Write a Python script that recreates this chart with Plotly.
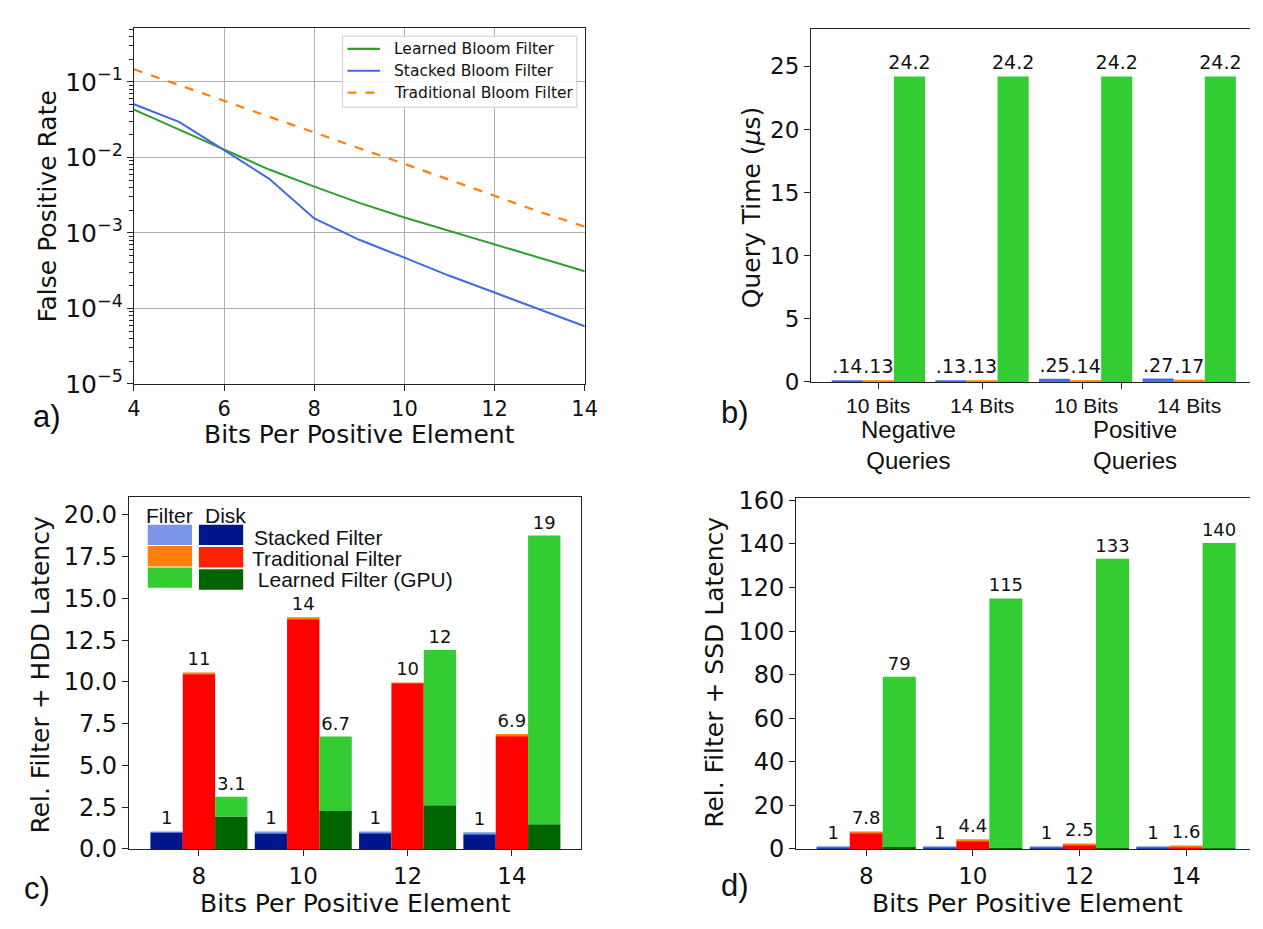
import plotly.graph_objects as go

W, H = 1263, 929

# ---------------- data ----------------
# panel a
bits_a = [4, 5, 6, 7, 8, 9, 10, 11, 12, 13, 14]
fpr_learned = [0.043, 0.0235, 0.0128, 0.0069, 0.0041, 0.0025, 0.0016, 0.00106, 0.00070, 0.00047, 0.00031]
fpr_stacked = [0.0505, 0.0295, 0.0125, 0.0052, 0.00155, 0.00081, 0.00047, 0.00027, 0.000162, 0.0000975, 0.000058]
fpr_trad = [0.147, 0.0905, 0.056, 0.0346, 0.0214, 0.0132, 0.0082, 0.0051, 0.0031, 0.0019, 0.00121]
a_names = ["Learned Bloom Filter", "Stacked Bloom Filter", "Traditional Bloom Filter"]

# panel b
b_cats = ["10 Bits", "14 Bits", "10 Bits", "14 Bits"]
b_groups = ["Negative<br>Queries", "Positive<br>Queries"]
b_stacked = [0.14, 0.13, 0.25, 0.27]
b_trad = [0.13, 0.13, 0.14, 0.17]
b_learned = [24.2, 24.2, 24.2, 24.2]
b_stacked_lbl = [".14", ".13", ".25", ".27"]
b_trad_lbl = [".13", ".13", ".14", ".17"]
b_learned_lbl = ["24.2", "24.2", "24.2", "24.2"]

# panel c (HDD)
c_bits = ["8", "10", "12", "14"]
c_stacked_disk = [1.00, 0.94, 0.97, 0.88]
c_stacked_filter = [0.02, 0.08, 0.04, 0.12]
c_trad_disk = [10.50, 13.80, 9.94, 6.77]
c_trad_filter = [0.02, 0.08, 0.02, 0.11]
c_learned_disk = [1.94, 2.27, 2.62, 1.48]
c_learned_filter = [1.19, 4.46, 9.30, 17.29]
c_stacked_lbl = ["1", "1", "1", "1"]
c_trad_lbl = ["11", "14", "10", "6.9"]
c_learned_lbl = ["3.1", "6.7", "12", "19"]
c_legend = ["Stacked Filter", "Traditional Filter", " Learned Filter (GPU)"]

# panel d (SSD)
d_bits = ["8", "10", "12", "14"]
d_stacked_disk = [0.4, 0.4, 0.4, 0.4]
d_stacked_filter = [0.6, 0.6, 0.6, 0.6]
d_trad_disk = [7.5, 3.9, 1.8, 1.0]
d_trad_filter = [0.3, 0.5, 0.7, 0.6]
d_learned_disk = [0.9, 0.5, 0.4, 0.3]
d_learned_filter = [78.2, 114.5, 132.8, 140.1]
d_stacked_lbl = ["1", "1", "1", "1"]
d_trad_lbl = ["7.8", "4.4", "2.5", "1.6"]
d_learned_lbl = ["79", "115", "133", "140"]

# ---------------- helpers ----------------
def px(x):
    return x / W

def py(y):
    return 1 - y / H

DV = "DejaVu Sans"
LS = "Liberation Sans"
INK = "#111111"

C_STK_F = "#7b96e8"
C_STK_D = "#00178c"
C_TRD_F = "#ff7f0e"
C_TRD_D = "#ff0000"
C_LRN_F = "#33cc33"
C_LRN_D = "#006400"

A_COLS = ["#2ca02c", "#4169e1", "#ff7f0e"]
A_DASH = ["solid", "solid", "dash"]

fig = go.Figure()

# ---------------- panel a ----------------
for ys, name, col, dash in zip([fpr_learned, fpr_stacked, fpr_trad], a_names, A_COLS, A_DASH):
    fig.add_trace(go.Scatter(x=bits_a, y=ys, mode="lines", name=name, showlegend=False,
                             line=dict(color=col, width=2.2 if dash == "dash" else 2, dash=dash),
                             xaxis="x", yaxis="y"))

# ---------------- bar helper ----------------
def bars(xa, ya, idx, vals, color, offset, width, base=None, text=None, textsize=18):
    kw = {}
    if base is not None:
        kw["base"] = base
    if text is not None:
        kw.update(text=text, textposition="outside", cliponaxis=False, constraintext="none",
                  textfont=dict(family=DV, size=textsize, color=INK))
    fig.add_trace(go.Bar(x=idx, y=vals, marker=dict(color=color, line=dict(width=0)),
                         offset=offset, width=width, xaxis=xa, yaxis=ya, showlegend=False,
                         hoverinfo="y", **kw))

# ---------------- panel b ----------------
idx_b = list(range(len(b_cats)))
bars("x2", "y2", idx_b, b_stacked, "#4169e1", -0.45, 0.3, text=b_stacked_lbl, textsize=19)
bars("x2", "y2", idx_b, b_trad, "#ff7f0e", -0.15, 0.3, text=b_trad_lbl, textsize=19)
bars("x2", "y2", idx_b, b_learned, "#33cc33", 0.15, 0.3, text=b_learned_lbl, textsize=19)

# ---------------- panel c ----------------
idx_c = list(range(len(c_bits)))
bw = 0.31
bars("x3", "y3", idx_c, c_stacked_disk, C_STK_D, -1.5 * bw, bw)
bars("x3", "y3", idx_c, c_stacked_filter, C_STK_F, -1.5 * bw, bw, base=c_stacked_disk, text=c_stacked_lbl)
bars("x3", "y3", idx_c, c_trad_disk, C_TRD_D, -0.5 * bw, bw)
bars("x3", "y3", idx_c, c_trad_filter, C_TRD_F, -0.5 * bw, bw, base=c_trad_disk, text=c_trad_lbl)
bars("x3", "y3", idx_c, c_learned_disk, C_LRN_D, 0.5 * bw, bw)
bars("x3", "y3", idx_c, c_learned_filter, C_LRN_F, 0.5 * bw, bw, base=c_learned_disk, text=c_learned_lbl)

# ---------------- panel d ----------------
idx_d = list(range(len(d_bits)))
bars("x4", "y4", idx_d, d_stacked_disk, C_STK_D, -1.5 * bw, bw)
bars("x4", "y4", idx_d, d_stacked_filter, "#4169e1", -1.5 * bw, bw, base=d_stacked_disk, text=d_stacked_lbl)
bars("x4", "y4", idx_d, d_trad_disk, C_TRD_D, -0.5 * bw, bw)
bars("x4", "y4", idx_d, d_trad_filter, C_TRD_F, -0.5 * bw, bw, base=d_trad_disk, text=d_trad_lbl)
bars("x4", "y4", idx_d, d_learned_disk, C_LRN_D, 0.5 * bw, bw)
bars("x4", "y4", idx_d, d_learned_filter, C_LRN_F, 0.5 * bw, bw, base=d_learned_disk, text=d_learned_lbl)

# ---------------- axes ----------------
def ax(domain, anchor, size, **kw):
    d = dict(domain=domain, anchor=anchor, showline=True, linecolor="#222222", linewidth=1.2,
             ticks="outside", ticklen=6, tickcolor="#222222", showgrid=False, zeroline=False,
             tickfont=dict(family=DV, size=size, color=INK))
    d.update(kw)
    return d

layout = dict(
    width=W, height=H, margin=dict(l=0, r=0, t=0, b=0),
    plot_bgcolor="white", paper_bgcolor="white", barmode="overlay", showlegend=False,
    xaxis=ax([px(129), px(587)], "y", 21, range=[4, 14], dtick=2, mirror=True,
             showgrid=True, gridcolor="#b0b0b0", gridwidth=1),
    yaxis=ax([py(383), py(16)], "x", 20, type="log", range=[-5, -0.28], dtick=1,
             exponentformat="power", mirror=True, showgrid=True, gridcolor="#b0b0b0", gridwidth=1,
             minor=dict(ticks="outside", ticklen=4, tickcolor="#222222", showgrid=False, dtick="D1")),
    xaxis2=ax([px(817), 1.0], "y2", 21, range=[-0.65, 3.586], tickvals=[0, 1, 1.97, 2.35],
              showticklabels=False, mirror=True),
    yaxis2=ax([py(381), py(17)], "x2", 23, range=[0, 28], dtick=5),
    xaxis3=ax([px(124), px(583)], "y3", 23, range=[-0.67, 3.66], tickvals=idx_c, ticktext=c_bits,
              mirror=True),
    yaxis3=ax([py(862), py(500)], "x3", 24, range=[0, 21.05], dtick=2.5, tickformat=".1f", mirror=True),
    xaxis4=ax([px(802), 1.0], "y4", 23, range=[-0.656, 3.6], tickvals=idx_d, ticktext=d_bits, mirror=True),
    yaxis4=ax([py(862), py(501)], "x4", 24, range=[0, 160.9], dtick=20),
)
fig.update_layout(**layout)

# ---------------- annotations ----------------
ann = []

def text(x, y, s, size, family=DV, angle=0, xanchor="center", xref="paper"):
    ann.append(dict(x=x if xref != "paper" else px(x), y=py(y), xref=xref, yref="paper", text=s,
                    showarrow=False, textangle=angle, xanchor=xanchor, yanchor="middle",
                    font=dict(family=family, size=size, color=INK)))

shapes = []

# panel a
text(41, 200, "False Positive Rate", 25, angle=-90)
text(358, 435, "Bits Per Positive Element", 25)
text(41, 417, "a)", 31, family=LS)
# legend of panel a (drawn box)
shapes.append(dict(type="rect", xref="paper", yref="paper", x0=px(341), x1=px(579),
                   y0=py(98), y1=py(25), fillcolor="rgba(255,255,255,0.85)",
                   line=dict(color="#cccccc", width=1)))
for k, (name, col, dash) in enumerate(zip(a_names, A_COLS, A_DASH)):
    yy = 38 + k * 22.5
    shapes.append(dict(type="line", xref="paper", yref="paper", x0=px(346), x1=px(379),
                       y0=py(yy), y1=py(yy), line=dict(color=col, width=2.2, dash=dash)))
    text(391, yy, name, 15.5, xanchor="left")

# panel b
text(756, 201, "Query Time (<i>μ</i>s)", 25, angle=-90)
text(740, 413, "b)", 31, family=LS)
for i, c in enumerate(b_cats):
    text(i, 405, c, 21, family=LS, xref="x2")
text(0.29, 446, b_groups[0], 24, family=LS, xref="x2")
text(2.48, 446, b_groups[1], 24, family=LS, xref="x2")
# panel c
text(34, 683, "Rel. Filter + HDD Latency", 25, angle=-90)
text(354, 918, "Bits Per Positive Element", 25)
text(30, 903, "c)", 31, family=LS)
# panel d
text(719, 680, "Rel. Filter + SSD Latency", 25, angle=-90)
text(1037, 918, "Bits Per Positive Element", 25)
text(740, 900, "d)", 31, family=LS)

# custom legend of panel c
text(165, 519, "Filter", 21, family=LS)
text(222, 519, "Disk", 21, family=LS)
text(249, 541, c_legend[0], 21, family=LS, xanchor="left")
text(247, 563, c_legend[1], 21, family=LS, xanchor="left")
text(247, 585, c_legend[2], 21, family=LS, xanchor="left")

filter_rows = [(528, 549), (550, 571), (572, 593)]
disk_rows = [(528, 549), (551, 572), (574, 595)]
filter_cols = [C_STK_F, C_TRD_F, C_LRN_F]
disk_cols = [C_STK_D, "#ff2200", C_LRN_D]
for (t, b), col in zip(filter_rows, filter_cols):
    shapes.append(dict(type="rect", xref="paper", yref="paper", x0=px(143), x1=px(188),
                       y0=py(b), y1=py(t), fillcolor=col, line=dict(width=0)))
for (t, b), col in zip(disk_rows, disk_cols):
    shapes.append(dict(type="rect", xref="paper", yref="paper", x0=px(195), x1=px(240),
                       y0=py(b), y1=py(t), fillcolor=col, line=dict(width=0)))

fig.update_layout(annotations=ann, shapes=shapes)

fig.write_html("out.html")
